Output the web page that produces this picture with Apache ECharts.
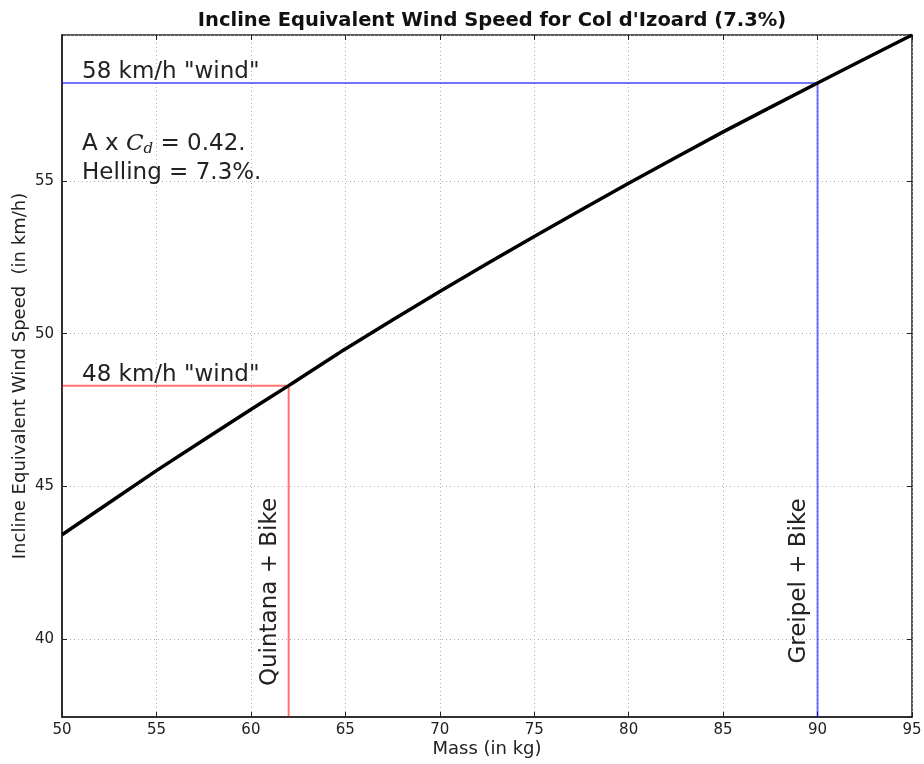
<!DOCTYPE html>
<html>
<head>
<meta charset="utf-8">
<title>Incline Equivalent Wind Speed</title>
<script src="https://cdn.jsdelivr.net/npm/echarts@6/dist/echarts.min.js"></script>
<style>
  html, body { margin: 0; padding: 0; background: #fff; }
  #chart { width: 924px; height: 764px; }
</style>
</head>
<body>
<div id="chart"></div>
<script>
  // mass (kg) vs equivalent wind speed (km/h)
  const masses = [50, 55, 60, 62, 65, 70, 75, 80, 85, 90, 95]
  const windSpeeds = [43.42, 45.52, 47.52, 48.30, 49.50, 51.38, 53.18, 54.92, 56.60, 58.20, 59.77]

  const massRange = [50, 95]
  const windRange = [37.46, 59.77]

  // riders marked on the curve
  const riderNames = ['Quintana + Bike', 'Greipel + Bike']
  const riderMass = [62, 90]
  const riderWind = [48.3, 58.2]
  const windLabels = ['48 km/h "wind"', '58 km/h "wind"']
  const riderColors = ['rgba(255,0,0,0.55)', 'rgba(0,0,255,0.55)']

  const FONT = '"DejaVu Sans", sans-serif'
  const chart = echarts.init(document.getElementById('chart'))

  const riderSeries = riderNames.map((name, i) => ({
    name: name,
    type: 'line',
    symbol: 'none',
    lineStyle: { color: riderColors[i], width: 2 },
    data: [[massRange[0], riderWind[i]], [riderMass[i], riderWind[i]], [riderMass[i], windRange[0]]],
    z: 2
  }))

  const hiddenAxis = {
    axisLabel: { show: false },
    splitLine: { show: false },
    axisLine: { show: false },
    axisTick: { inside: true, length: 5, lineStyle: { color: '#222' } }
  }

  chart.setOption({
    animation: false,
    title: {
      text: "Incline Equivalent Wind Speed for Col d'Izoard (7.3%)",
      left: 487,
      top: 6,
      textAlign: 'center',
      textStyle: { fontFamily: FONT, fontSize: 19.5, fontWeight: 'bold', color: '#111' }
    },
    grid: {
      left: 62, right: 12, top: 35, bottom: 47,
      outerBoundsMode: 'none',
      containLabel: false,
      show: true, borderColor: '#222', borderWidth: 1.5
    },
    xAxis: [{
      type: 'value',
      min: massRange[0], max: massRange[1], interval: 5,
      name: 'Mass (in kg)',
      nameLocation: 'middle',
      nameGap: 23,
      nameMoveOverlap: false,
      nameTextStyle: { fontFamily: FONT, fontSize: 18, color: '#222' },
      axisLine: { lineStyle: { color: '#222', width: 1.5 } },
      axisTick: { inside: true, length: 5, lineStyle: { color: '#222' } },
      axisLabel: { fontFamily: FONT, fontSize: 15, color: '#222', margin: 6 },
      splitLine: { lineStyle: { color: '#b0b0b0', type: [1, 3], width: 1 } }
    }, Object.assign({
      type: 'value', position: 'top',
      min: massRange[0], max: massRange[1], interval: 5
    }, hiddenAxis)],
    yAxis: [{
      type: 'value',
      min: windRange[0], max: windRange[1], splitNumber: 5,
      name: 'Incline Equivalent Wind Speed  (in km/h)',
      nameLocation: 'middle',
      nameGap: 33,
      nameMoveOverlap: false,
      nameTextStyle: { fontFamily: FONT, fontSize: 18, color: '#222' },
      axisLine: { lineStyle: { color: '#222', width: 1.5 } },
      axisTick: { inside: true, length: 5, lineStyle: { color: '#222' } },
      axisLabel: { fontFamily: FONT, fontSize: 15, color: '#222', margin: 8, showMinLabel: false, showMaxLabel: false },
      splitLine: { lineStyle: { color: '#b0b0b0', type: [1, 3], width: 1 } }
    }, Object.assign({
      type: 'value', position: 'right',
      min: windRange[0], max: windRange[1], splitNumber: 5
    }, hiddenAxis)],
    series: riderSeries.concat([{
      name: 'equivalent wind',
      type: 'line',
      symbol: 'none',
      smooth: 0.2,
      lineStyle: { color: '#000', width: 3.5 },
      data: masses.map((m, i) => [m, windSpeeds[i]]),
      z: 3
    }])
  })

  // annotation texts, anchored in data space
  const textStyle = { font: '23px ' + FONT, fill: '#222' }
  const px = (x, y) => chart.convertToPixel({ gridIndex: 0 }, [x, y])
  const graphics = []
  riderNames.forEach((name, i) => {
    const p = px(massRange[0], riderWind[i])
    graphics.push({
      type: 'text', x: p[0] + 20, y: p[1] + 1,
      style: Object.assign({ text: windLabels[i], align: 'left', verticalAlign: 'bottom' }, textStyle)
    })
    const q = px(riderMass[i], 0)
    graphics.push({
      type: 'text', x: q[0] - 19, y: i === 0 ? 592 : 581, rotation: Math.PI / 2,
      style: Object.assign({ text: name, align: 'center', verticalAlign: 'middle' }, textStyle)
    })
  })
  graphics.push({
    type: 'text', x: 82, y: 144,
    style: {
      text: 'A x {c|C}{d|d} = 0.42.',
      font: '23px ' + FONT, fill: '#222', align: 'left', verticalAlign: 'middle',
      rich: {
        c: { fontFamily: '"DejaVu Serif", serif', fontStyle: 'italic', fontSize: 23, fill: '#222' },
        d: { fontFamily: '"DejaVu Serif", serif', fontStyle: 'italic', fontSize: 15, fill: '#222', padding: [10, 0, 0, 0] }
      }
    }
  })
  graphics.push({
    type: 'text', x: 82, y: 173,
    style: Object.assign({ text: 'Helling = 7.3%.', align: 'left', verticalAlign: 'middle' }, textStyle)
  })
  chart.setOption({ graphic: graphics })
</script>
</body>
</html>
